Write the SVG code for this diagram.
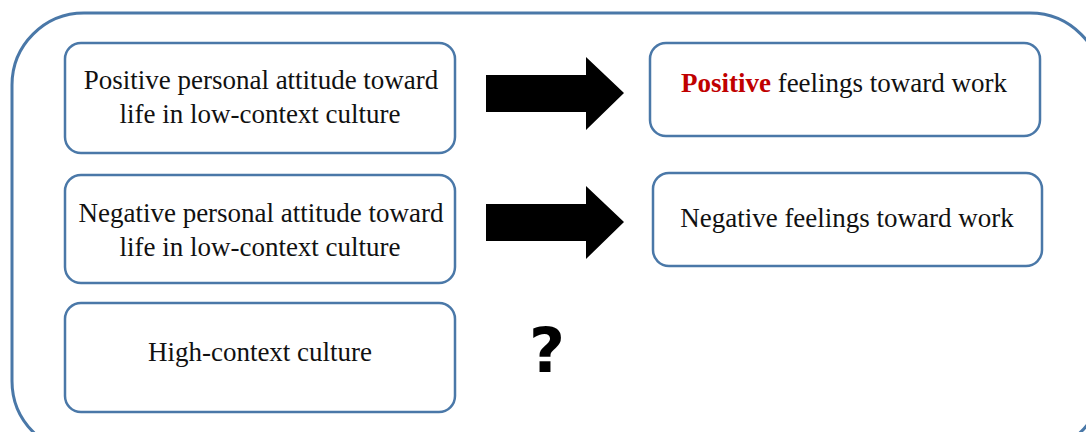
<svg xmlns="http://www.w3.org/2000/svg" width="1086" height="432" viewBox="0 0 1086 432">
<style>
.box{fill:#fff;stroke:#4a78a8;stroke-width:2.5}
.outer{fill:none;stroke:#4a78a8;stroke-width:3}
.t{font-family:"Liberation Serif","Times New Roman",serif;font-size:27px;fill:#111;text-anchor:middle}
.arr{fill:#000}
</style>
<rect class="outer" x="12" y="13" width="1090" height="440" rx="72" ry="72"/>
<g id="n1"><rect class="box" x="65" y="43" width="390" height="110" rx="16"/>
<text class="t" x="261" y="89">Positive personal attitude toward</text>
<text class="t" x="260" y="123">life in low-context culture</text></g>
<g id="n2"><rect class="box" x="65" y="175" width="390" height="108" rx="16"/>
<text class="t" x="261" y="222">Negative personal attitude toward</text>
<text class="t" x="260" y="256">life in low-context culture</text></g>
<g id="n3"><rect class="box" x="65" y="303" width="390" height="109" rx="16"/>
<text class="t" x="260" y="361">High-context culture</text></g>
<g id="n4"><rect class="box" x="650" y="43" width="390" height="93" rx="16"/>
<text class="t" x="844" y="92"><tspan fill="#c00000" font-weight="bold">Positive</tspan> feelings toward work</text></g>
<g id="n5"><rect class="box" x="653" y="173" width="389" height="93" rx="16"/>
<text class="t" x="847" y="227">Negative feelings toward work</text></g>
<g id="connectors">
<polygon class="arr" points="486,75 586,75 586,57 624,93 586,130 586,112 486,112"/>
<polygon class="arr" points="486,204 586,204 586,186 624,222 586,259 586,241 486,241"/>
</g>
<text id="q" x="547" y="372" font-family="'DejaVu Sans','Liberation Sans',sans-serif" font-weight="bold" font-size="62" text-anchor="middle" fill="#000">?</text>
</svg>
